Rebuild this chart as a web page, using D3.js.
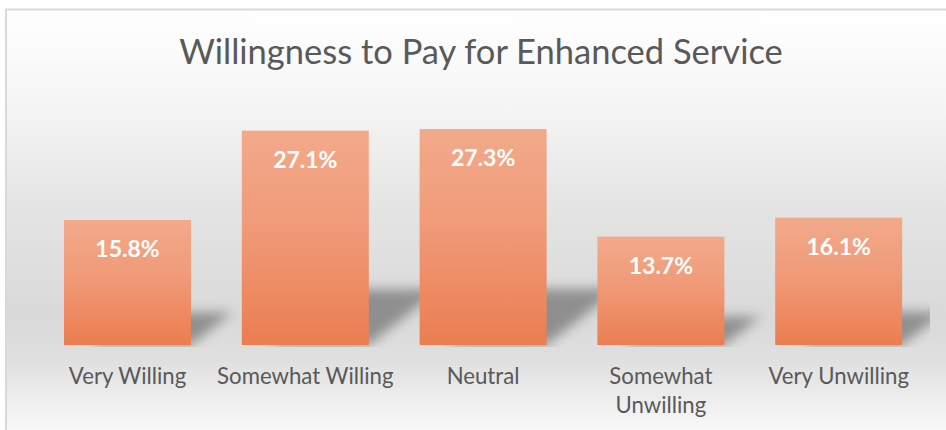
<!DOCTYPE html>
<html>
<head>
<meta charset="utf-8">
<script src="https://cdn.jsdelivr.net/npm/d3@7/dist/d3.min.js"></script>
<style>
  html, body { margin: 0; padding: 0; background: #ffffff; }
  svg { display: block; }
</style>
</head>
<body>
<svg id="chart" width="946" height="430"></svg>
<script>
// ---- data ----
const titleText = "Willingness to Pay for Enhanced Service";
const categories = ["Very Willing", "Somewhat Willing", "Neutral", "Somewhat Unwilling", "Very Unwilling"];
const values = [15.8, 27.1, 27.3, 13.7, 16.1];
const valueLabels = ["15.8%", "27.1%", "27.3%", "13.7%", "16.1%"];
const yDomain = [0, 30];

// ---- layout ----
const W = 946, H = 430;
const plot = { left: 38.6, right: 927.6, top: 107.7, bottom: 345 };
const FONT = "Lato, 'Open Sans', 'Liberation Sans', sans-serif";

const svg = d3.select("#chart");
const defs = svg.append("defs");

// chart background gradient
const bg = defs.append("linearGradient").attr("id", "bgGrad")
  .attr("x1", 0).attr("y1", 0).attr("x2", 0).attr("y2", 1);
[[0, "#ffffff"], [0.2, "#f6f6f6"], [0.45, "#e4e4e4"], [0.7, "#d9d9d9"], [0.8, "#e0e0e0"], [1, "#ffffff"]]
  .forEach(([o, c]) => bg.append("stop").attr("offset", o).attr("stop-color", c));

// bar gradient
const bar = defs.append("linearGradient").attr("id", "barGrad")
  .attr("x1", 0).attr("y1", 0).attr("x2", 0).attr("y2", 1);
bar.append("stop").attr("offset", 0).attr("stop-color", "#f2aa8b");
bar.append("stop").attr("offset", 0.45).attr("stop-color", "#f09a78");
bar.append("stop").attr("offset", 1).attr("stop-color", "#eb7d51");

// shadow blur
defs.append("filter").attr("id", "blur").attr("x", "-50%").attr("y", "-50%")
  .attr("width", "200%").attr("height", "200%")
  .append("feGaussianBlur").attr("stdDeviation", 6);

defs.append("clipPath").attr("id", "plotClip").append("rect")
  .attr("x", plot.left).attr("y", plot.top - 40)
  .attr("width", 930 - plot.left).attr("height", plot.bottom + 2 - (plot.top - 40));

// chart area
svg.append("rect").attr("x", 6).attr("y", 9.5).attr("width", 960).attr("height", 440)
  .attr("fill", "url(#bgGrad)").attr("stroke", "#d9d9d9").attr("stroke-width", 2);

// scales
const x = d3.scaleBand().domain(categories)
  .range([plot.left, plot.right]).paddingInner(0.2857).paddingOuter(0.1429);
const y = d3.scaleLinear().domain(yDomain).range([plot.bottom, plot.top]);
const bw = x.bandwidth();

// title
svg.append("text").attr("x", 481).attr("y", 64)
  .attr("text-anchor", "middle").attr("fill", "#595959")
  .style("font-family", FONT).style("font-size", "34.5px")
  .text(titleText);

const data = categories.map((c, i) => ({ c, v: values[i], label: valueLabels[i] }));

// shadows
const sh = svg.append("g").attr("clip-path", "url(#plotClip)");
sh.selectAll("polygon").data(data).join("polygon")
  .attr("points", d => {
    const x0 = x(d.c), x1 = x0 + bw, yb = y(0), h = y(0) - y(d.v);
    const dx = 0.33 * h, dy = 0.26 * h;
    return [[x0 + 0.2 * bw, yb], [x1, yb], [x1 + dx, yb - dy], [x0 + 0.2 * bw + dx, yb - dy]]
      .map(p => p.join(",")).join(" ");
  })
  .attr("fill", "#000").attr("opacity", 0.34).attr("filter", "url(#blur)");

// bars
svg.append("g").selectAll("rect").data(data).join("rect")
  .attr("x", d => x(d.c)).attr("y", d => y(d.v))
  .attr("width", bw).attr("height", d => y(0) - y(d.v))
  .attr("fill", "url(#barGrad)");

// value labels
svg.append("g").selectAll("text").data(data).join("text")
  .attr("x", d => x(d.c) + bw / 2).attr("y", d => y(d.v) + 37)
  .attr("text-anchor", "middle").attr("fill", "#ffffff")
  .style("font-family", FONT).style("font-size", "23px").style("font-weight", "bold")
  .text(d => d.label);

// category axis labels
const axis = d3.axisBottom(x).tickSize(0).tickPadding(0);
const gAxis = svg.append("g").attr("transform", `translate(0,${plot.bottom})`).call(axis);
gAxis.select(".domain").remove();
gAxis.selectAll(".tick text")
  .attr("y", 0).attr("dy", null)
  .attr("fill", "#595959")
  .style("font-family", FONT).style("font-size", "22.2px")
  .each(function(d) {
    const t = d3.select(this);
    const maxW = x.step() + 6;
    t.text(d);
    const words = d.split(" ");
    let lines = [d];
    if (this.getComputedTextLength() > maxW && words.length > 1) {
      lines = [words.slice(0, -1).join(" "), words[words.length - 1]];
    }
    t.text(null);
    lines.forEach((ln, i) => {
      t.append("tspan").attr("x", 0).attr("y", 38.5 + i * 29).text(ln);
    });
  });
</script>
</body>
</html>
